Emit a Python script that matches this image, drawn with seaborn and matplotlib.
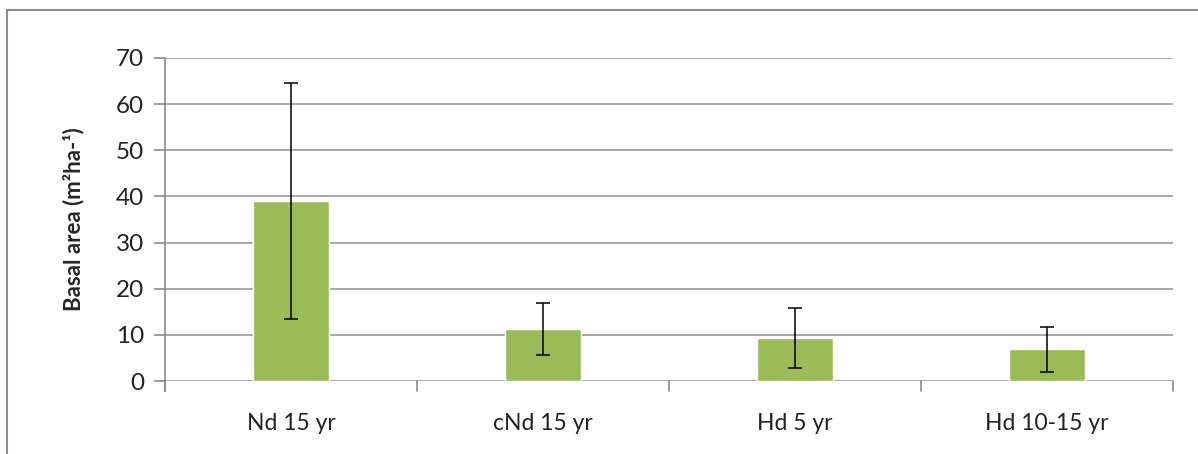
import matplotlib
matplotlib.use("Agg")
import matplotlib.pyplot as plt
import seaborn as sns
import pandas as pd
from matplotlib.patches import Rectangle

categories = ["Nd 15 yr", "cNd 15 yr", "Hd 5 yr", "Hd 10-15 yr"]
basal_area = [39.0, 11.3, 9.3, 6.9]
errors = [25.6, 5.6, 6.5, 4.9]
y_ticks = [0, 10, 20, 30, 40, 50, 60, 70]

sns.set_theme(style="white")
plt.rcParams['font.family'] = ['Lato', 'DejaVu Sans']

df = pd.DataFrame({"cat": categories, "val": basal_area})

fig = plt.figure(figsize=(11.98, 4.54), dpi=100)
ax = fig.add_axes([165/1198, 1-381/454, (1173-165)/1198, (381-58)/454])

sns.barplot(data=df, x="cat", y="val", color="#9BBB59", saturation=1,
            width=0.3, errorbar=None, ax=ax, zorder=3)
ax.errorbar(x=categories, y=basal_area, yerr=errors, fmt="none",
            ecolor="black", elinewidth=1.1, capsize=5, capthick=1.1, zorder=4)

ax.set_ylim(0, 70)
ax.set_xlim(-0.5, 3.5)
ax.set_yticks(y_ticks)
ax.yaxis.grid(True, color="#9a9a9a", linewidth=1.2, zorder=0)
ax.set_axisbelow(True)
for s in ["top", "right", "bottom"]:
    ax.spines[s].set_visible(False)
ax.spines["left"].set_color("#8a8a8a")
ax.spines["left"].set_linewidth(1.2)
ax.spines["left"].set_bounds(-2.2, 70)
ax.spines["left"].set_zorder(1)

ax.tick_params(axis="y", length=8, width=1.2, color="#8a8a8a", left=True,
               labelsize=17.5, pad=7, labelcolor="#222222")
ax.set_xticks([])
# category boundary tick marks below axis
for b in [-0.5, 0.5, 1.5, 2.5, 3.5]:
    ax.plot([b, b], [0, -2.2], color="#8a8a8a", lw=1.2, clip_on=False, zorder=1)
for i, c in enumerate(categories):
    ax.text(i, -9.3, c, ha="center", va="center", fontsize=16.5, color="#222222")

ax.set_xlabel("")
ax.set_ylabel("Basal area (m²ha-¹)", fontsize=16, fontweight="bold", labelpad=23)

fig.patches.append(Rectangle((7/1198, -0.1), 1.2, 1 - 10/454 + 0.1,
                             transform=fig.transFigure, fill=False,
                             edgecolor="#8c8c8c", linewidth=1.5))

fig.savefig("out.png", dpi=100)
